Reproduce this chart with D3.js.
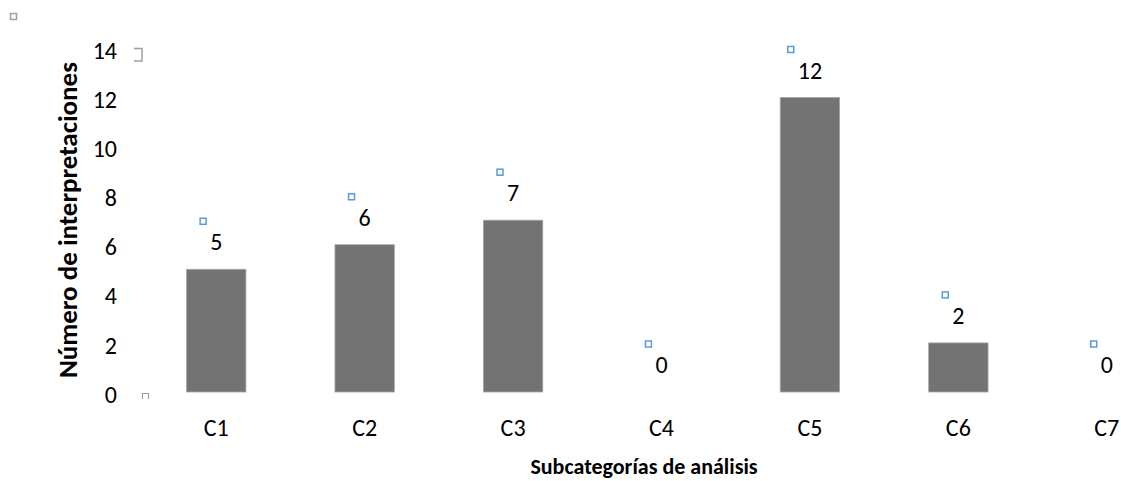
<!DOCTYPE html>
<html><head><meta charset="utf-8">
<script src="https://cdn.jsdelivr.net/npm/d3@7"></script>
<style>
body{margin:0;background:#fff;}
svg{display:block;font-family:Carlito,Calibri,"Open Sans",sans-serif;}
</style></head>
<body><svg id="c" width="1121" height="481"></svg>
<script>
const categories = ["C1","C2","C3","C4","C5","C6","C7"];
const values = [5,6,7,0,12,2,0];
const yTicks = [0,2,4,6,8,10,12,14];
const yTitle = "Número de interpretaciones";
const xTitle = "Subcategorías de análisis";

const FF = 'Carlito,Calibri,"Open Sans",sans-serif';
const svg = d3.select("#c");
const x = d3.scaleBand().domain(categories).range([142, 1181]).paddingInner(0.6).paddingOuter(0.3);
const y = d3.scaleLinear().domain([0,14]).range([392, 48.4]);

// y axis (no line)
const yAxis = d3.axisLeft(y).tickValues(yTicks).tickSize(0).tickPadding(0);
const gy = svg.append("g").attr("transform","translate(117,0)").call(yAxis);
gy.select(".domain").remove();
gy.selectAll("text").attr("font-size",24).attr("fill","#000").attr("dy","0.42em")
  .style("font-family",FF);

// x axis (no line)
const xAxis = d3.axisBottom(x).tickSize(0).tickPadding(0);
const gx = svg.append("g").attr("transform","translate(0,428)").call(xAxis);
gx.select(".domain").remove();
gx.selectAll("text").attr("font-size",24).attr("fill","#000").attr("dy","0.34em")
  .style("font-family",FF);

// bars
svg.append("g").selectAll("rect").data(values).join("rect")
  .attr("x",(d,i)=>x(categories[i]))
  .attr("width",x.bandwidth())
  .attr("y",d=>y(d))
  .attr("height",d=>y(0)-y(d))
  .attr("fill",d=>d>0?"#737373":"none")
  .attr("stroke",d=>d>0?"#a6a6a6":"none")
  .attr("stroke-width",0.8);

// data labels
const lab = svg.append("g").selectAll("g").data(values).join("g")
  .attr("transform",(d,i)=>`translate(${x(categories[i])+x.bandwidth()/2},${y(d)-27})`);
lab.append("text").text(d=>d).attr("text-anchor","middle").attr("dy","0.34em")
  .attr("font-size",24).attr("fill","#000");
lab.each(function(d){
  const g = d3.select(this);
  const w = g.select("text").node().getComputedTextLength();
  g.append("rect").attr("x",-w/2-10).attr("y",-24).attr("width",6).attr("height",6)
   .attr("fill","#fff").attr("stroke","#5b9bd5").attr("stroke-width",1.5);
});

// axis titles
svg.append("text").attr("transform","translate(77,220) rotate(-90)")
  .attr("text-anchor","middle").attr("font-size",26).attr("font-weight","bold")
  .attr("textLength",316).attr("lengthAdjust","spacingAndGlyphs")
  .text(yTitle);
svg.append("text").attr("x",644).attr("y",466).attr("text-anchor","middle").attr("dy","0.36em")
  .attr("font-size",22).attr("font-weight","bold").text(xTitle);

// selection artifacts
svg.append("rect").attr("x",10.5).attr("y",13.5).attr("width",6).attr("height",6)
  .attr("fill","#fff").attr("stroke","#a0a0a0").attr("stroke-width",1.5);
svg.append("path").attr("d","M134,48.5 H142 V61 H134").attr("fill","none").attr("stroke","#a0a0a0").attr("stroke-width",1.5);
svg.append("path").attr("d","M142.5,399 V393.5 H148.5 V399").attr("fill","none").attr("stroke","#a0a0a0").attr("stroke-width",1.2);
</script></body></html>
